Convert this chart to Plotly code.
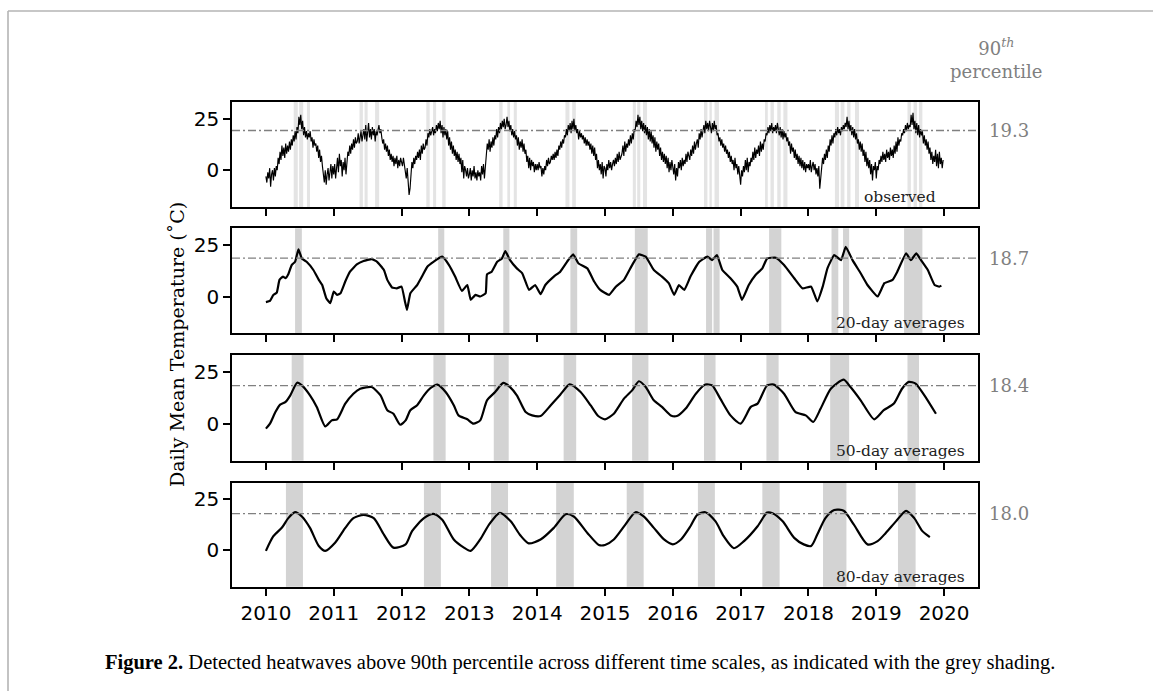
import plotly.graph_objects as go

# ---------------- data ----------------
YEARS = list(range(2010, 2020))

# observed daily mean temperature, sampled every ~5 days (72 values per year)
obs_2010 = [-3, -6, -1, -4, 1, -8, -2, 0, -5, 1,
            -3, 2, 0, 6, 3, 9, 5, 12,
            7, 11, 6, 13, 8, 12, 9, 14,
            10, 15, 12, 17, 14, 19,
            15, 21, 18, 26, 22, 27, 20, 24,
            17, 21, 16, 19, 15, 18, 16, 19,
            14, 16, 11, 15, 12, 13, 9, 12,
            6, 10, 4, 7, 2, -2, -6, 0,
            -7, -2, 1, -5, -1, 3, -4, 2]
obs_2011 = [-2, 3, -4, 1, 6, -1, 8, 2, 5, -3,
            4, 0, 6, -2, 5, 9, 7, 12,
            8, 13, 10, 15, 11, 16, 13, 14,
            18, 13, 16, 19, 14, 17,
            20, 15, 22, 14, 19, 23, 16, 20,
            15, 21, 17, 20, 14, 19, 17, 21,
            22, 18, 20, 16, 13, 15, 10, 13,
            9, 12, 7, 10, 5, 8, 4, 7,
            2, 6, 3, 7, 1, 5, 2, 6]
obs_2012 = [4, 2, 6, 3, 0, -4, 1, -7, -12, -9,
            -2, 4, 1, 6, 3, 7, 5, 9,
            6, 10, 5, 12, 8, 13, 10, 11,
            15, 12, 18, 16, 20, 17,
            19, 21, 17, 20, 18, 22, 19, 23,
            20, 24, 18, 22, 16, 21, 17, 20,
            15, 19, 12, 16, 10, 14, 8, 12,
            7, 10, 5, 9, 4, 8, 3, 6,
            -1, 5, -4, 2, 0, -3, 1, -4]
obs_2013 = [-2, 1, -5, 0, -3, 2, -4, -1, -5, 0,
            -3, -1, -5, 2, -2, 3, -4, 1,
            9, 13, 10, 15, 9, 14, 11, 16,
            12, 17, 15, 20, 16, 21,
            18, 23, 20, 24, 21, 25, 20, 22,
            26, 21, 24, 19, 22, 17, 20, 16,
            19, 15, 17, 12, 16, 10, 14, 11,
            15, 9, 13, 8, 10, 4, 7, 1,
            6, 0, 5, 2, 4, -1, 3, 0]
obs_2014 = [3, 0, 4, 1, 2, -3, 1, -2, 2, 0,
            5, 2, 6, 3, 4, 7, 5, 8,
            5, 9, 6, 10, 7, 12, 10, 14,
            11, 15, 13, 17, 16, 20,
            17, 22, 19, 23, 18, 24, 20, 25,
            19, 22, 18, 20, 15, 19, 16, 18,
            15, 17, 13, 16, 12, 15, 12, 14,
            10, 13, 8, 12, 7, 11, 5, 8,
            1, 5, 0, 3, -2, 4, -4, 2]
obs_2015 = [1, -3, 3, 0, 5, 1, 4, 0, 3, 5,
            2, 6, 3, 8, 4, 9, 5, 7,
            8, 12, 7, 14, 9, 13, 11, 15,
            12, 17, 13, 18, 15, 20,
            19, 24, 21, 27, 22, 26, 20, 24,
            19, 23, 18, 22, 17, 21, 15, 20,
            14, 19, 13, 17, 11, 16, 9, 14,
            10, 13, 7, 11, 5, 9, 4, 8,
            3, 7, 1, 6, -1, 4, 0, 5]
obs_2016 = [2, -2, 3, -5, 1, -3, 4, 1, 5, 0,
            6, 2, 5, 3, 8, 4, 9, 6,
            5, 10, 7, 12, 8, 14, 10, 13,
            15, 11, 18, 15, 20, 16,
            19, 22, 18, 24, 20, 23, 19, 24,
            21, 18, 23, 19, 24, 20, 22, 17,
            18, 14, 16, 12, 15, 11, 13, 9,
            12, 8, 10, 6, 9, 4, 7, 3,
            5, 0, 6, 1, 3, -2, 2, -5]
obs_2017 = [-7, 0, -3, 2, -1, 5, 0, 6, -1, 4,
            2, 6, 4, 9, 5, 11, 6, 10,
            8, 12, 7, 14, 9, 13, 10, 15,
            14, 18, 17, 21, 18, 22,
            19, 23, 18, 21, 19, 22, 18, 23,
            20, 17, 21, 16, 20, 15, 19, 16,
            18, 14, 16, 12, 14, 8, 13, 9,
            11, 6, 10, 5, 8, 3, 7, 2,
            6, 1, 5, 0, 4, -1, 3, 1]
obs_2018 = [3, 0, 5, -1, 2, 4, 0, 3, -2, 1,
            -3, 2, -9, -4, 0, 6, 3, 8,
            5, 10, 6, 12, 9, 15, 12, 17,
            13, 18, 16, 20, 17, 21,
            18, 20, 17, 21, 19, 22, 20, 23,
            21, 26, 20, 24, 19, 22, 17, 21,
            16, 20, 15, 18, 13, 15, 10, 14,
            9, 13, 7, 10, 4, 9, 2, 6,
            1, 5, -2, 3, -5, 2, 0, 4]
obs_2019 = [-4, 2, 0, 5, 3, 7, 4, 9, 5, 8,
            4, 10, 6, 9, 5, 11, 7, 10,
            6, 12, 8, 14, 9, 16, 12, 15,
            14, 18, 17, 20, 18, 22,
            19, 23, 20, 22, 21, 27, 22, 28,
            20, 24, 18, 23, 17, 22, 16, 20,
            17, 19, 13, 17, 12, 15, 10, 14,
            8, 11, 5, 9, 3, 7, 4, 10,
            2, 8, 1, 9, 3, 6, 1, 5]

# 20-day running averages (decimal year, value)
avg20_t = [2010.0, 2010.06, 2010.11, 2010.16, 2010.2, 2010.25, 2010.29, 2010.33, 2010.38, 2010.43, 2010.48, 2010.53, 2010.6, 2010.7, 2010.78, 2010.83, 2010.89, 2010.95,
           2011.0, 2011.05, 2011.1, 2011.17, 2011.24, 2011.34, 2011.44, 2011.56, 2011.64, 2011.74, 2011.79, 2011.86, 2011.93,
           2012.0, 2012.05, 2012.08, 2012.13, 2012.23, 2012.3, 2012.38, 2012.47, 2012.6, 2012.7, 2012.79, 2012.89, 2012.97,
           2013.02, 2013.09, 2013.16, 2013.24, 2013.26, 2013.33, 2013.41, 2013.48, 2013.53, 2013.6, 2013.7, 2013.78, 2013.88, 2013.97,
           2014.05, 2014.12, 2014.245, 2014.34, 2014.44, 2014.53, 2014.61, 2014.74, 2014.84, 2014.93,
           2015.06, 2015.16, 2015.28, 2015.4, 2015.5, 2015.6, 2015.72, 2015.84, 2015.94,
           2016.02, 2016.09, 2016.17, 2016.26, 2016.39, 2016.51, 2016.58, 2016.65, 2016.73, 2016.85, 2016.95,
           2017.02, 2017.12, 2017.22, 2017.32, 2017.39, 2017.52, 2017.64, 2017.79, 2017.91,
           2018.04, 2018.13, 2018.21, 2018.28, 2018.38, 2018.48, 2018.55, 2018.65, 2018.77, 2018.87,
           2019.02, 2019.12, 2019.24, 2019.31, 2019.44, 2019.51, 2019.59, 2019.66, 2019.76, 2019.86, 2019.93, 2019.96]
avg20_v = [-2.7, -2.1, 0.8, 1.9, 8.1, 9.7, 8.9, 10.8, 15.3, 16.9, 22.9, 18.5, 16.9, 12.9, 8.1, 5.6, -0.8, -3.2,
           2.4, 0.8, 1.6, 7.3, 12.1, 15.6, 17.3, 18.2, 16.9, 12.9, 8.1, 4.4, 4.0,
           4.8, -2.4, -6.5, 1.6, 5.6, 9.7, 14.5, 16.9, 19.4, 15.3, 9.7, 2.7, 5.6,
           -1.6, 0.8, 0.0, 1.6, 10.8, 12.1, 16.9, 18.5, 22.1, 17.7, 13.7, 11.3, 3.2, 5.6,
           1.1, 5.6, 9.7, 12.1, 16.9, 20.5, 16.1, 13.7, 7.3, 3.2,
           0.8, 4.8, 8.1, 15.3, 20.5, 19.4, 12.9, 9.7, 6.5,
           0.8, 5.6, 3.2, 9.7, 16.9, 19.4, 17.7, 20.2, 12.9, 8.9, 4.8,
           -1.6, 5.6, 10.5, 13.7, 18.5, 18.9, 15.3, 8.9, 4.0,
           4.8, -2.4, 4.8, 13.7, 20.2, 17.7, 24.2, 17.7, 11.3, 5.6,
           0.0, 6.5, 8.1, 12.1, 21.0, 17.7, 21.0, 17.7, 12.9, 5.6, 4.8, 5.3]

# 50-day running averages
avg50_t = [2010.0, 2010.06, 2010.14, 2010.21, 2010.29, 2010.36, 2010.46, 2010.53, 2010.65, 2010.75, 2010.875, 2010.97,
           2011.05, 2011.17, 2011.29, 2011.39, 2011.56, 2011.69, 2011.79, 2011.88, 2011.98,
           2012.06, 2012.13, 2012.23, 2012.33, 2012.43, 2012.53, 2012.65, 2012.77, 2012.84, 2012.97,
           2013.06, 2013.16, 2013.26, 2013.38, 2013.5, 2013.6, 2013.7, 2013.83, 2013.925,
           2014.05, 2014.2, 2014.34, 2014.48, 2014.64, 2014.79, 2014.9,
           2015.0, 2015.13, 2015.28, 2015.4, 2015.5, 2015.6, 2015.72, 2015.84, 2015.97,
           2016.06, 2016.19, 2016.34, 2016.48, 2016.58, 2016.7, 2016.85,
           2017.0, 2017.15, 2017.25, 2017.39, 2017.49, 2017.64, 2017.81, 2017.96,
           2018.07, 2018.18, 2018.33, 2018.52, 2018.62, 2018.77, 2018.97,
           2019.11, 2019.26, 2019.38, 2019.48, 2019.58, 2019.71, 2019.88]
avg50_v = [-2.4, 0.0, 5.6, 9.2, 10.5, 13.7, 19.8, 18.5, 13.7, 8.1, -1.3, 1.6,
           2.1, 9.7, 14.5, 16.9, 17.7, 13.7, 6.5, 4.8, -0.5,
           1.6, 6.5, 8.9, 13.7, 17.3, 18.9, 15.3, 8.9, 4.0, 2.1,
           0.0, 1.6, 11.3, 15.3, 19.7, 17.7, 13.7, 5.6, 4.0,
           3.7, 8.9, 14.0, 19.0, 15.3, 8.8, 3.7,
           2.1, 4.8, 12.1, 16.1, 20.5, 17.7, 11.3, 8.1, 4.0,
           3.7, 7.3, 14.5, 18.9, 18.5, 12.1, 4.0,
           0.0, 8.1, 9.7, 18.5, 18.9, 14.5, 5.6, 4.0,
           0.8, 7.3, 16.9, 21.3, 17.7, 11.3, 2.1,
           6.5, 9.7, 16.9, 20.2, 19.4, 13.7, 4.8]

# 80-day running averages
avg80_t = [2010.0, 2010.11, 2010.24, 2010.33, 2010.43, 2010.53, 2010.65, 2010.78, 2010.875,
           2011.02, 2011.17, 2011.29, 2011.44, 2011.59, 2011.74, 2011.88,
           2012.06, 2012.155, 2012.33, 2012.47, 2012.6, 2012.77, 2012.92,
           2013.02, 2013.16, 2013.29, 2013.45, 2013.61, 2013.75, 2013.875,
           2014.05, 2014.245, 2014.42, 2014.54, 2014.74, 2014.91,
           2015.0, 2015.13, 2015.3, 2015.45, 2015.57, 2015.72, 2015.87,
           2016.0, 2016.12, 2016.26, 2016.36, 2016.48, 2016.63, 2016.75, 2016.9,
           2017.05, 2017.25, 2017.39, 2017.47, 2017.62, 2017.79, 2017.93,
           2018.04, 2018.13, 2018.25, 2018.38, 2018.52, 2018.67, 2018.87,
           2019.02, 2019.14, 2019.29, 2019.44, 2019.56, 2019.68, 2019.79]
avg80_v = [-0.3, 6.9, 11.3, 15.8, 18.7, 16.6, 11.0, 2.1, -0.3,
           3.7, 11.0, 15.8, 17.4, 15.8, 7.7, 1.3,
           2.9, 9.4, 15.8, 17.9, 15.0, 5.3, 1.3,
           -0.3, 5.3, 12.6, 18.4, 14.2, 7.4, 3.4,
           5.3, 11.0, 17.7, 16.6, 8.5, 2.6,
           2.6, 5.3, 12.6, 18.7, 16.6, 11.0, 5.3,
           2.9, 5.3, 11.8, 17.4, 18.7, 14.2, 6.9, 1.0,
           4.5, 11.8, 18.5, 18.2, 14.2, 6.1, 2.9,
           2.1, 7.7, 15.8, 19.8, 19.4, 12.6, 2.9,
           4.5, 8.5, 14.2, 19.4, 15.8, 9.4, 6.5]

# detected heatwave periods (start, end) in decimal years
hw_obs = [(2010.41, 2010.47), (2010.49, 2010.55), (2010.605, 2010.65),
          (2011.38, 2011.43), (2011.455, 2011.50), (2011.61, 2011.67),
          (2012.365, 2012.415), (2012.465, 2012.51), (2012.60, 2012.65),
          (2013.44, 2013.49), (2013.56, 2013.60), (2013.655, 2013.70),
          (2014.417, 2014.476), (2014.516, 2014.57),
          (2015.41, 2015.455), (2015.475, 2015.52), (2015.56, 2015.62),
          (2016.46, 2016.51), (2016.54, 2016.575), (2016.615, 2016.68),
          (2017.36, 2017.40), (2017.44, 2017.49), (2017.54, 2017.59), (2017.63, 2017.69),
          (2018.39, 2018.45), (2018.475, 2018.53), (2018.57, 2018.62), (2018.686, 2018.745),
          (2019.46, 2019.51), (2019.55, 2019.60), (2019.63, 2019.68)]
hw_20 = [(2010.43, 2010.53), (2012.54, 2012.63), (2013.50, 2013.59), (2014.49, 2014.59),
         (2015.44, 2015.63), (2016.49, 2016.58), (2016.60, 2016.69), (2017.42, 2017.60),
         (2018.34, 2018.44), (2018.51, 2018.60), (2019.41, 2019.68)]
hw_50 = [(2010.38, 2010.555), (2012.47, 2012.65), (2013.36, 2013.58), (2014.39, 2014.575),
         (2015.40, 2015.64), (2016.46, 2016.63), (2017.38, 2017.56), (2018.32, 2018.60),
         (2019.46, 2019.63)]
hw_80 = [(2010.295, 2010.546), (2012.33, 2012.58), (2013.32, 2013.57), (2014.28, 2014.54),
         (2015.32, 2015.57), (2016.37, 2016.62), (2017.32, 2017.575), (2018.215, 2018.56),
         (2019.32, 2019.58)]

percentiles = [19.3, 18.7, 18.4, 18.0]
panel_labels = ["observed", "20-day averages", "50-day averages", "80-day averages"]
year_ticks = list(range(2010, 2021))

# ---------------- assemble ----------------
observed = (obs_2010 + obs_2011 + obs_2012 + obs_2013 + obs_2014 +
            obs_2015 + obs_2016 + obs_2017 + obs_2018 + obs_2019)
obs_t = [yr + i / 72 for yr in YEARS for i in range(72)]

series = [(obs_t, observed), (avg20_t, avg20_v), (avg50_t, avg50_v), (avg80_t, avg80_v)]
heatwaves = [hw_obs, hw_20, hw_50, hw_80]

W, H = 1153, 691
# pixel boxes of the four panels (top, bottom)
boxes = [(102, 207), (228.3, 333.3), (355, 460.7), (482.7, 586.7)]
x_left, x_right = 232, 978
line_widths = [1.15, 2.2, 2.2, 2.2]
line_shapes = ["linear", "spline", "spline", "spline"]
line_smooth = [None, 0.35, 0.6, 0.7]
band_colors = ["#e4e4e4", "#d3d3d3", "#d3d3d3", "#d3d3d3"]
label_right = [938, 967, 967, 967]

SERIF = "DejaVu Serif"
SANS = "DejaVu Sans"
GREY = "#808080"

fig = go.Figure()
layout = dict(width=W, height=H, margin=dict(l=0, r=0, t=0, b=0),
              paper_bgcolor="white", plot_bgcolor="white", showlegend=False)
shapes = []
annotations = []

for k in range(4):
    n = "" if k == 0 else str(k + 1)
    xa, ya = "x" + n, "y" + n
    t, v = series[k]
    fig.add_trace(go.Scatter(x=t, y=v, xaxis=xa, yaxis=ya, mode="lines",
                             line=dict(color="black", width=line_widths[k], shape=line_shapes[k],
                                       smoothing=line_smooth[k]),
                             hoverinfo="skip"))
    # threshold line
    fig.add_trace(go.Scatter(x=[2009.5, 2020.5], y=[percentiles[k]] * 2, xaxis=xa, yaxis=ya,
                             mode="lines", line=dict(color=GREY, width=1.4, dash="8px,3px,2px,3px"),
                             hoverinfo="skip"))
    for (s, e) in heatwaves[k]:
        shapes.append(dict(type="rect", xref=xa, yref=ya + " domain", x0=s, x1=e, y0=0, y1=1,
                           fillcolor=band_colors[k], line=dict(width=0), layer="below"))
    top, bot = boxes[k]
    layout["xaxis" + n] = dict(domain=[x_left / W, x_right / W], range=[2009.5, 2020.5],
                               anchor=ya, tickmode="array", tickvals=year_ticks,
                               ticktext=[str(y) for y in year_ticks], showticklabels=(k == 3),
                               ticks="outside", ticklen=7, tickwidth=1.5, tickcolor="black",
                               showline=True, linecolor="black", linewidth=1.6, mirror=True,
                               showgrid=False, zeroline=False,
                               tickfont=dict(family=SANS, size=20, color="black"))
    layout["yaxis" + n] = dict(domain=[1 - bot / H, 1 - top / H], range=[-17.9, 33.2],
                               anchor=xa, tickmode="array", tickvals=[0, 25],
                               ticks="outside", ticklen=7, tickwidth=1.5, tickcolor="black",
                               showline=True, linecolor="black", linewidth=1.6, mirror=True,
                               showgrid=False, zeroline=False,
                               tickfont=dict(family=SANS, size=20, color="black"))
    # panel label
    annotations.append(dict(xref="paper", yref="paper", x=label_right[k] / W, y=1 - (bot - 10) / H,
                            xanchor="right", yanchor="middle", text=panel_labels[k], showarrow=False,
                            font=dict(family=SERIF, size=15.5, color="#222222")))
    # percentile value
    annotations.append(dict(xref="paper", yref=ya, x=987 / W, y=percentiles[k],
                            xanchor="left", yanchor="middle", text=f"{percentiles[k]:.1f}",
                            showarrow=False, font=dict(family=SERIF, size=18, color=GREY)))

annotations.append(dict(xref="paper", yref="paper", x=996 / W, y=1 - 59 / H,
                        xanchor="center", yanchor="middle",
                        text="90<sup><i>th</i></sup><br>percentile", showarrow=False,
                        font=dict(family=SERIF, size=18, color=GREY)))
annotations.append(dict(xref="paper", yref="paper", x=177 / W, y=1 - 345 / H,
                        xanchor="center", yanchor="middle", textangle=-90,
                        text="Daily Mean Temperature (˚C)", showarrow=False,
                        font=dict(family=SERIF, size=19, color="black")))
annotations.append(dict(xref="paper", yref="paper", x=103 / W, y=1 - 662 / H,
                        xanchor="left", yanchor="middle",
                        text="<b>Figure 2.</b> Detected heatwaves above 90th percentile across different "
                             "time scales, as indicated with the grey shading.",
                        showarrow=False,
                        font=dict(family="Liberation Serif", size=20.5, color="black")))

# page frame (top and left edges)
shapes.append(dict(type="line", xref="paper", yref="paper", x0=8 / W, x1=1, y0=1 - 11 / H, y1=1 - 11 / H,
                   line=dict(color="#b4b4b4", width=1.6)))
shapes.append(dict(type="line", xref="paper", yref="paper", x0=8 / W, x1=8 / W, y0=0, y1=1 - 11 / H,
                   line=dict(color="#b4b4b4", width=1.6)))

layout["shapes"] = shapes
layout["annotations"] = annotations
fig.update_layout(**layout)
fig.write_html("out.html")
